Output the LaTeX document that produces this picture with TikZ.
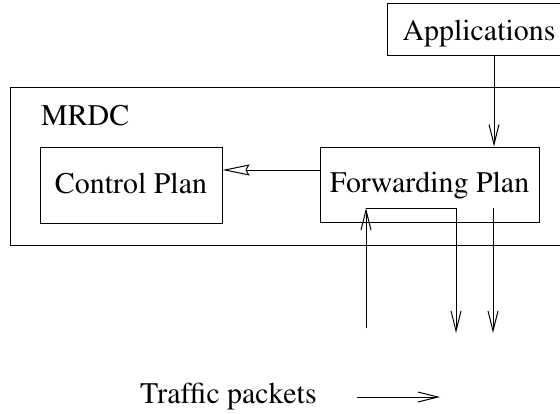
\documentclass[tikz,border=0pt]{standalone}
\usepackage[T1]{fontenc}
\usepackage{times}
\usetikzlibrary{arrows.meta}
\begin{document}
\begin{tikzpicture}[x=1pt,y=-1pt,
  lbl/.style={font=\rmfamily\fontsize{29.9}{34}\selectfont, inner sep=0pt},
  box/.style={draw, line width=1pt, lbl, text height=20pt, text depth=4pt},
  conn/.style={line width=1pt},
  barb/.style={conn, -{Straight Barb[length=20pt,width=10pt]}},
  openhead/.style={conn, -{Stealth[open,length=27pt,width=11pt,inset=3pt]}}
]
\useasboundingbox (0,0) rectangle (560,413);
\clip (0,0) rectangle (560,413);
% container
\node[draw, line width=1pt, minimum width=570pt, minimum height=158pt, inner sep=0pt] (mrdc) at (295,166) {};
\node[lbl, anchor=base west] (mrdclbl) at (41,125) {MRDC};
% boxes
\node[box, text height=22pt, text depth=0pt, minimum width=184pt, minimum height=52pt] (app) at (479,29) {Applications};
\node[box, minimum width=182pt, minimum height=76pt] (cp) at (131,185) {Control Plan};
\node[box, minimum width=219pt, minimum height=75pt] (fp) at (429.5,184.5) {Forwarding Plan};
% helper coordinates
\coordinate (ax) at (494,0);
\coordinate (hy) at (0,170);
\coordinate (in1) at (366,328);
\coordinate (corner) at (366,208);
\coordinate (turn) at (456,208);
\coordinate (out1) at (456,333);
\coordinate (src2) at (493,208);
\coordinate (out2) at (493,333);
% connectors
\draw[barb] (app.south -| ax) -- (fp.north -| ax);
\draw[openhead] (fp.west |- hy) -- (cp.east |- hy);
\draw[barb] (in1) -- (corner);
\draw[barb] (corner) -- (turn) -- (out1);
\draw[barb] (src2) -- (out2);
% legend
\node[lbl, anchor=base west] (traffic) at (140,403) {Traffic packets};
\coordinate (t1) at (357,397);
\coordinate (t2) at (440,397);
\draw[barb] (t1) -- (t2);
\end{tikzpicture}
\end{document}
